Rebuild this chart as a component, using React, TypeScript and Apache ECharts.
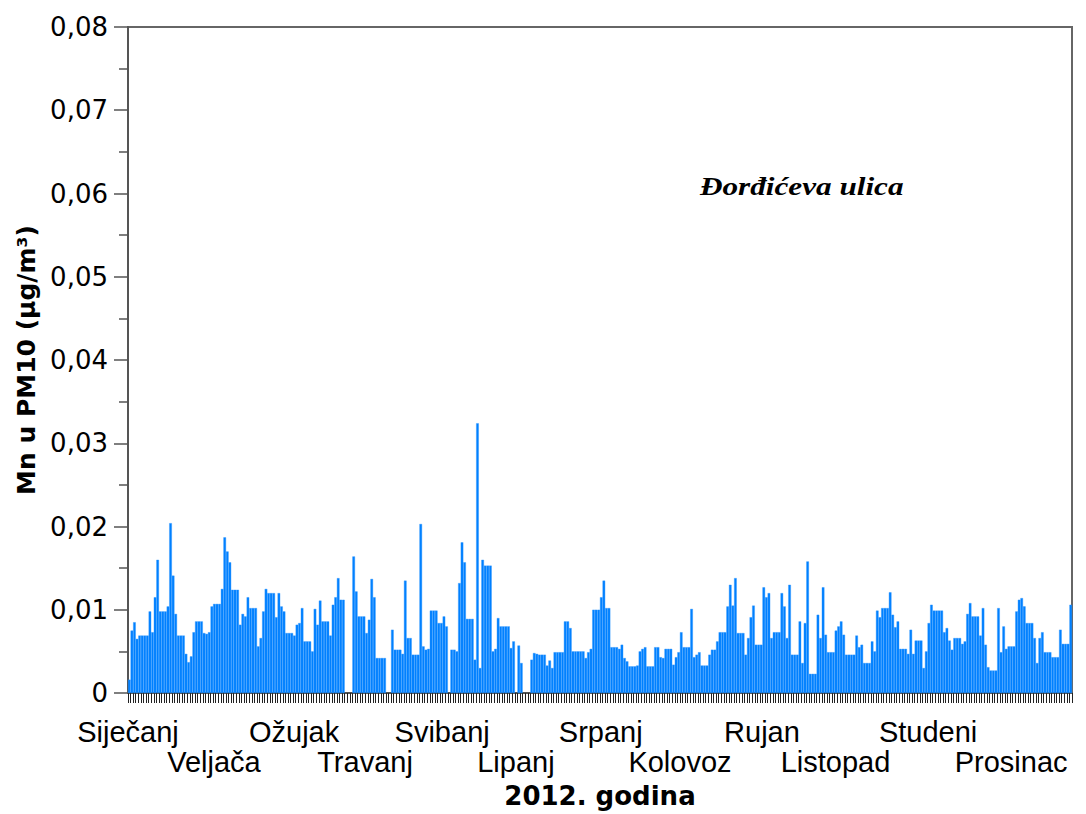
import React, { useEffect, useRef } from "react";
import * as echarts from "echarts";

const MONTH_NAMES = ["Siječanj", "Veljača", "Ožujak", "Travanj", "Svibanj", "Lipanj", "Srpanj", "Kolovoz", "Rujan", "Listopad", "Studeni", "Prosinac"];
const MONTH_LENGTHS = [31, 29, 31, 30, 31, 30, 31, 31, 30, 31, 30, 31];
// label centre positions along the year, in days
const MONTH_LABEL_POS = [0, 33.3, 64.4, 91.9, 121.8, 150.4, 183.3, 214, 245.8, 274.3, 310.2, 342.4];
const Y_TICKS = [0, 0.01, 0.02, 0.03, 0.04, 0.05, 0.06, 0.07, 0.08];

const jan = [0.0016, 0.0075, 0.0085, 0.0065, 0.0069, 0.0069, 0.0069, 0.0069, 0.0098, 0.0073, 0.0115, 0.016, 0.0098, 0.0098, 0.0098, 0.0104, 0.0204, 0.0141, 0.0095, 0.0069, 0.0069, 0.0069, 0.0047, 0.0037, 0.0044, 0.0073, 0.0086, 0.0086, 0.0086, 0.0072, 0.0071];
const feb = [0.0073, 0.0104, 0.0107, 0.0107, 0.0107, 0.0125, 0.0187, 0.017, 0.0157, 0.0124, 0.0124, 0.0124, 0.0082, 0.0095, 0.0092, 0.0115, 0.0102, 0.0102, 0.0102, 0.0056, 0.0066, 0.0098, 0.0125, 0.012, 0.012, 0.012, 0.0091, 0.012, 0.0104];
const mar = [0.0098, 0.0072, 0.0072, 0.0072, 0.0069, 0.0082, 0.0084, 0.0102, 0.0062, 0.0062, 0.0062, 0.005, 0.0101, 0.0082, 0.0111, 0.0086, 0.0086, 0.0086, 0.0069, 0.0106, 0.0115, 0.0138, 0.0112, 0.0112, null, null, null, 0.0164, 0.0122, 0.0092, 0.0092];
const apr = [0.0092, 0.0072, 0.0088, 0.0137, 0.0115, 0.0042, 0.0042, 0.0042, 0.0042, null, null, 0.0076, 0.0052, 0.0052, 0.0052, 0.0047, 0.0135, 0.0066, 0.0066, 0.0046, 0.0046, 0.0046, 0.0203, 0.0056, 0.0052, 0.0053, 0.0099, 0.0099, 0.0099, 0.0084];
const may = [0.0084, 0.0092, 0.008, null, 0.0052, 0.0052, 0.005, 0.0132, 0.0181, 0.0157, 0.0089, 0.0089, 0.0089, 0.004, 0.0324, 0.003, 0.016, 0.0153, 0.0153, 0.0153, 0.005, 0.0053, 0.009, 0.008, 0.008, 0.008, 0.008, 0.0054, 0.0062, null, 0.0057];
const jun = [0.0036, null, null, null, 0.004, 0.0048, 0.0047, 0.0046, 0.0046, 0.0046, 0.0033, 0.0039, 0.003, 0.0049, 0.0049, 0.0049, 0.0049, 0.0086, 0.0086, 0.0078, 0.005, 0.005, 0.005, 0.005, 0.005, 0.0042, 0.0049, 0.0053, 0.01, 0.01];
const jul = [0.01, 0.0115, 0.0135, 0.0102, 0.0102, 0.0055, 0.0055, 0.0055, 0.0053, 0.0058, 0.0042, 0.0038, 0.0032, 0.0032, 0.0032, 0.0033, 0.005, 0.0053, 0.0055, 0.0032, 0.0032, 0.0032, 0.0055, 0.0055, 0.0043, 0.0042, 0.0053, 0.0053, 0.0053, 0.0034, 0.0043];
const aug = [0.0049, 0.0073, 0.0055, 0.0055, 0.0055, 0.0101, 0.0043, 0.0046, 0.0049, 0.0033, 0.0033, 0.0033, 0.0046, 0.0052, 0.0052, 0.0062, 0.0073, 0.0073, 0.0073, 0.0104, 0.013, 0.0105, 0.0138, 0.0072, 0.0072, 0.0072, 0.0046, 0.0066, 0.0091, 0.0105, 0.0058];
const sep = [0.0058, 0.0058, 0.0127, 0.0115, 0.012, 0.0066, 0.0073, 0.0073, 0.0073, 0.012, 0.0104, 0.0066, 0.013, 0.0046, 0.0046, 0.0046, 0.0086, 0.0036, 0.0084, 0.0158, 0.0023, 0.0023, 0.0023, 0.0094, 0.0066, 0.0127, 0.007, 0.0049, 0.0049, 0.0049];
const oct = [0.0075, 0.008, 0.0086, 0.007, 0.0046, 0.0046, 0.0046, 0.0046, 0.0069, 0.0055, 0.0058, 0.0036, 0.0036, 0.0036, 0.0062, 0.005, 0.0099, 0.0091, 0.0102, 0.0102, 0.0102, 0.0121, 0.0094, 0.0079, 0.0086, 0.0053, 0.0053, 0.0053, 0.0047, 0.0076, 0.0047];
const nov = [0.0063, 0.0063, 0.0063, 0.003, 0.005, 0.0084, 0.0106, 0.0099, 0.0099, 0.0099, 0.0099, 0.0073, 0.0078, 0.0063, 0.0052, 0.0066, 0.0066, 0.0066, 0.0059, 0.0062, 0.0095, 0.0108, 0.0092, 0.0092, 0.0092, 0.0069, 0.0102, 0.0058, 0.0031, 0.0027];
const dec = [0.0027, 0.0027, 0.0102, 0.0049, 0.008, 0.0053, 0.0056, 0.0056, 0.0056, 0.0098, 0.0112, 0.0114, 0.0104, 0.0084, 0.0084, 0.0084, 0.0066, 0.0036, 0.0066, 0.0073, 0.0049, 0.0049, 0.0049, 0.0043, 0.0043, 0.0043, 0.0076, 0.0059, 0.0059, 0.0059, 0.0106];

const MONTHS_DATA = [jan, feb, mar, apr, may, jun, jul, aug, sep, oct, nov, dec];

export default function App() {
  const ref = useRef<HTMLDivElement>(null);

  useEffect(() => {
    if (!ref.current) return;
    const chart = echarts.init(ref.current, undefined, { renderer: "svg" });

    const categories: string[] = [];
    const values: (number | null)[] = [];
    MONTHS_DATA.forEach((arr, m) => {
      for (let d = 0; d < MONTH_LENGTHS[m]; d++) {
        categories.push(`2012-${String(m + 1).padStart(2, "0")}-${String(d + 1).padStart(2, "0")}`);
        values.push(d < arr.length ? arr[d] : null);
      }
    });
    const nDays = categories.length;

    const axisColor = "#555555";

    const nameAt = (v: number) => {
      let best = 0;
      for (let i = 0; i < MONTH_LABEL_POS.length; i++) {
        if (Math.abs(MONTH_LABEL_POS[i] - v) < Math.abs(MONTH_LABEL_POS[best] - v)) best = i;
      }
      return MONTH_NAMES[best];
    };

    const labelAxis = (row: number) => ({
      type: "value",
      min: 0,
      max: nDays,
      position: "bottom",
      axisLine: { show: false },
      axisTick: { show: false },
      splitLine: { show: false },
      axisLabel: {
        show: true,
        showMinLabel: true,
        showMaxLabel: true,
        hideOverlap: false,
        customValues: MONTH_LABEL_POS.filter((_, i) => i % 2 === row),
        margin: row === 0 ? 24 : 54,
        fontFamily: "Liberation Sans",
        fontSize: 29,
        lineHeight: 30,
        color: "#000",
        formatter: (v: number) => nameAt(v),
      },
    });

    chart.setOption({
      animation: false,
      grid: {
        left: 128,
        right: 14,
        top: 27,
        bottom: 120,
        show: true,
        borderColor: "#666666",
        borderWidth: 2,
        backgroundColor: "transparent",
      },
      xAxis: [
        {
          type: "category",
          data: categories,
          position: "bottom",
          boundaryGap: true,
          axisLine: { show: true, lineStyle: { color: axisColor, width: 2 } },
          axisTick: { show: true, interval: 0, length: 10, lineStyle: { color: "#222222", width: 1 } },
          axisLabel: { show: false },
          splitLine: { show: false },
          name: "2012. godina",
          nameLocation: "middle",
          nameGap: 90,
          nameTextStyle: { fontFamily: "DejaVu Sans", fontWeight: "bold", fontSize: 26, color: "#000" },
        },
        labelAxis(0),
        labelAxis(1),
      ],
      yAxis: {
        type: "value",
        min: Y_TICKS[0],
        max: Y_TICKS[Y_TICKS.length - 1],
        interval: 0.01,
        axisLine: { show: true, lineStyle: { color: axisColor, width: 2 } },
        axisTick: { show: true, length: 14, lineStyle: { color: axisColor, width: 1.5 } },
        minorTick: { show: true, splitNumber: 2, length: 9, lineStyle: { color: axisColor, width: 1.5 } },
        splitLine: { show: false },
        axisLabel: {
          margin: 20,
          fontFamily: "DejaVu Sans",
          fontSize: 26,
          color: "#000",
          formatter: (v: number) => (Math.abs(v) < 1e-9 ? "0" : v.toFixed(2).replace(".", ",")),
        },
        name: "Mn u PM10 (µg/m³)",
        nameLocation: "middle",
        nameGap: 89,
        nameTextStyle: { fontFamily: "DejaVu Sans", fontWeight: "bold", fontSize: 25, color: "#000" },
      },
      series: [
        {
          type: "bar",
          xAxisIndex: 0,
          yAxisIndex: 0,
          data: values,
          barCategoryGap: "0%",
          barGap: "0%",
          itemStyle: { color: "#0080ff", borderColor: "#2b95ff", borderWidth: 0.4 },
        },
      ],
      graphic: [
        {
          type: "text",
          x: 700,
          y: 173,
          scaleX: 1.2,
          style: {
            text: "Đorđićeva ulica",
            fontFamily: "Liberation Serif",
            fontStyle: "italic",
            fontWeight: "bold",
            fontSize: 26,
            fill: "#000",
          },
        },
      ],
    });

    return () => chart.dispose();
  }, []);

  return <div ref={ref} style={{ position: "absolute", left: 0, top: 0, width: 1086, height: 814 }} />;
}
